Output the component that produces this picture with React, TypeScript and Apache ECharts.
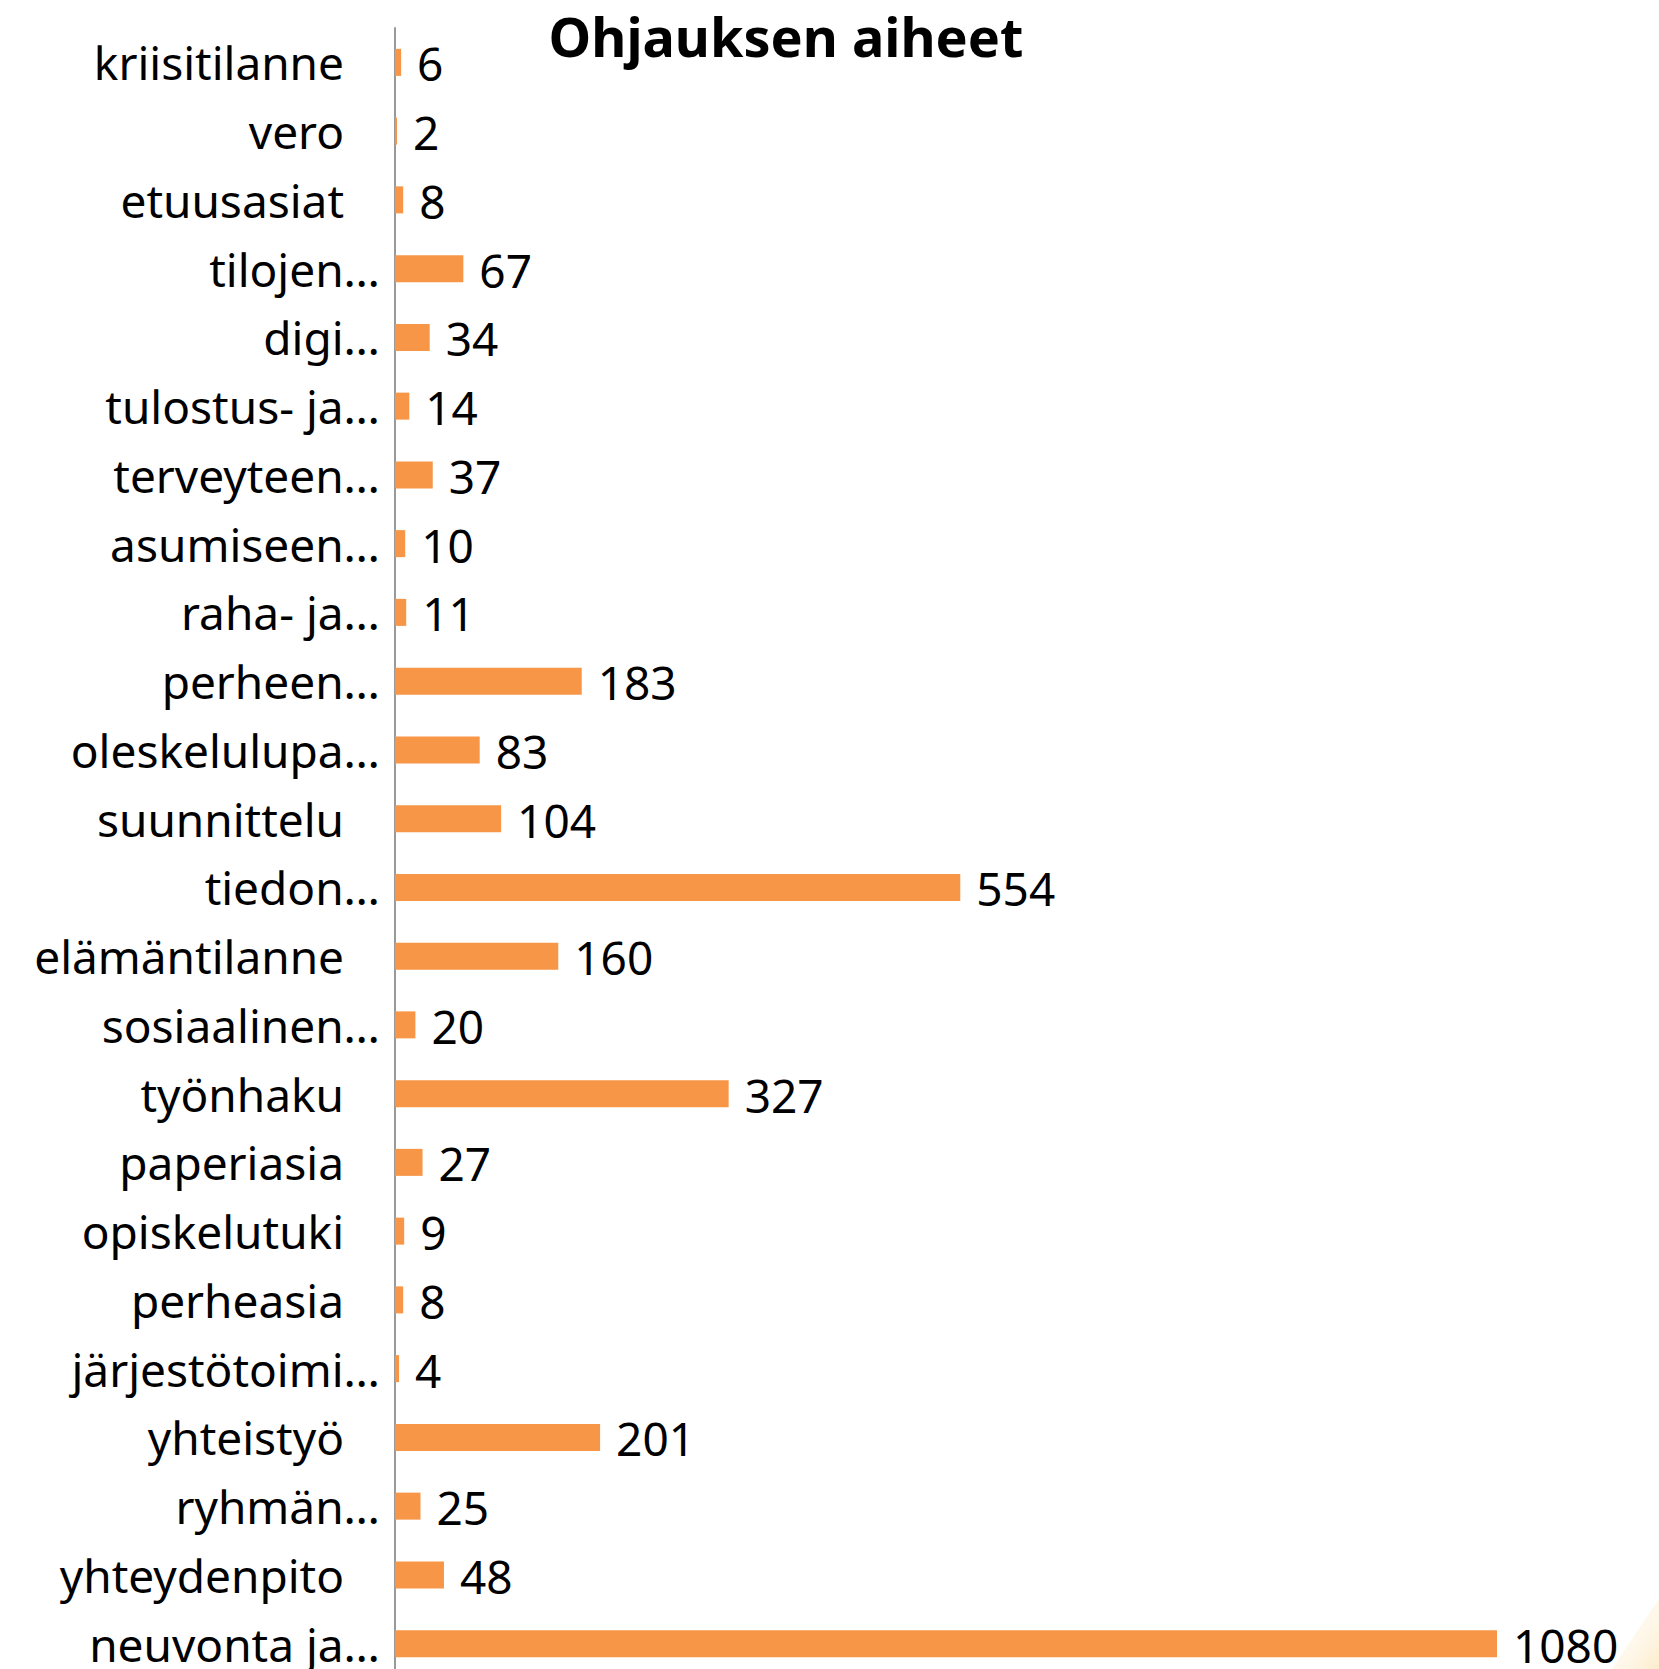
import React, { useEffect, useRef } from "react";
import * as echarts from "echarts";

const TITLE = "Ohjauksen aiheet";

const categories = [
  "kriisitilanne",
  "vero",
  "etuusasiat",
  "tilojen…",
  "digi…",
  "tulostus- ja…",
  "terveyteen…",
  "asumiseen…",
  "raha- ja…",
  "perheen…",
  "oleskelulupa…",
  "suunnittelu",
  "tiedon…",
  "elämäntilanne",
  "sosiaalinen…",
  "työnhaku",
  "paperiasia",
  "opiskelutuki",
  "perheasia",
  "järjestötoimi…",
  "yhteistyö",
  "ryhmän…",
  "yhteydenpito",
  "neuvonta ja…",
];

const values = [6, 2, 8, 67, 34, 14, 37, 10, 11, 183, 83, 104, 554, 160, 20, 327, 27, 9, 8, 4, 201, 25, 48, 1080];

const FONT = "'Noto Sans', 'Open Sans', sans-serif";

export default function App() {
  const ref = useRef<HTMLDivElement>(null);

  useEffect(() => {
    if (!ref.current) return;
    const chart = echarts.init(ref.current, null, { renderer: "svg" });
    chart.setOption({
      animation: false,
      backgroundColor: "#ffffff",
      textStyle: { fontFamily: FONT },
      graphic: [
        {
          type: "text",
          x: 786,
          y: 36,
          style: {
            text: TITLE,
            fontFamily: FONT,
            fontSize: 54,
            fontWeight: "bold",
            fill: "#000",
            textAlign: "center",
            textVerticalAlign: "middle",
          },
          z: 10,
        },
        {
          type: "polygon",
          shape: { points: [[1612, 1669], [1659, 1598], [1659, 1669]] },
          style: {
            fill: new echarts.graphic.LinearGradient(0, 0, 1, 1, [
              { offset: 0, color: "rgba(255,245,225,0.0)" },
              { offset: 0.6, color: "rgba(253,232,190,0.35)" },
              { offset: 1, color: "rgba(250,220,160,0.55)" },
            ]),
          },
          z: 0,
        },
      ],
      grid: { left: 395, top: 28, width: 1102, height: 1650, containLabel: false },
      xAxis: {
        type: "value",
        min: 0,
        max: 1080,
        show: false,
      },
      yAxis: {
        type: "category",
        data: categories,
        inverse: true,
        axisLine: { show: true, lineStyle: { color: "#999999", width: 2 } },
        axisTick: { show: false },
        axisLabel: {
          margin: 15,
          color: "#000",
          fontFamily: FONT,
          fontSize: 46,
          formatter: (v: string) => (v.endsWith("…") ? `{t|${v}}` : `{n|${v}}`),
          rich: {
            t: { fontFamily: FONT, fontSize: 46, color: "#000" },
            n: { fontFamily: FONT, fontSize: 46, color: "#000", padding: [0, 36, 0, 0] },
          },
        },
      },
      series: [
        {
          type: "bar",
          data: values,
          barWidth: 27,
          itemStyle: { color: "#F79646" },
          label: {
            show: true,
            position: "right",
            distance: 16,
            color: "#000",
            fontFamily: FONT,
            fontSize: 46,
            offset: [0, 1],
          },
        },
      ],
    });
    return () => chart.dispose();
  }, []);

  return (
    <div
      style={{
        position: "fixed",
        left: 0,
        top: 0,
        width: 1659,
        height: 1669,
        overflow: "hidden",
        background: "#fff",
      }}
    >
      <div ref={ref} style={{ width: 1659, height: 1690 }} />
    </div>
  );
}
